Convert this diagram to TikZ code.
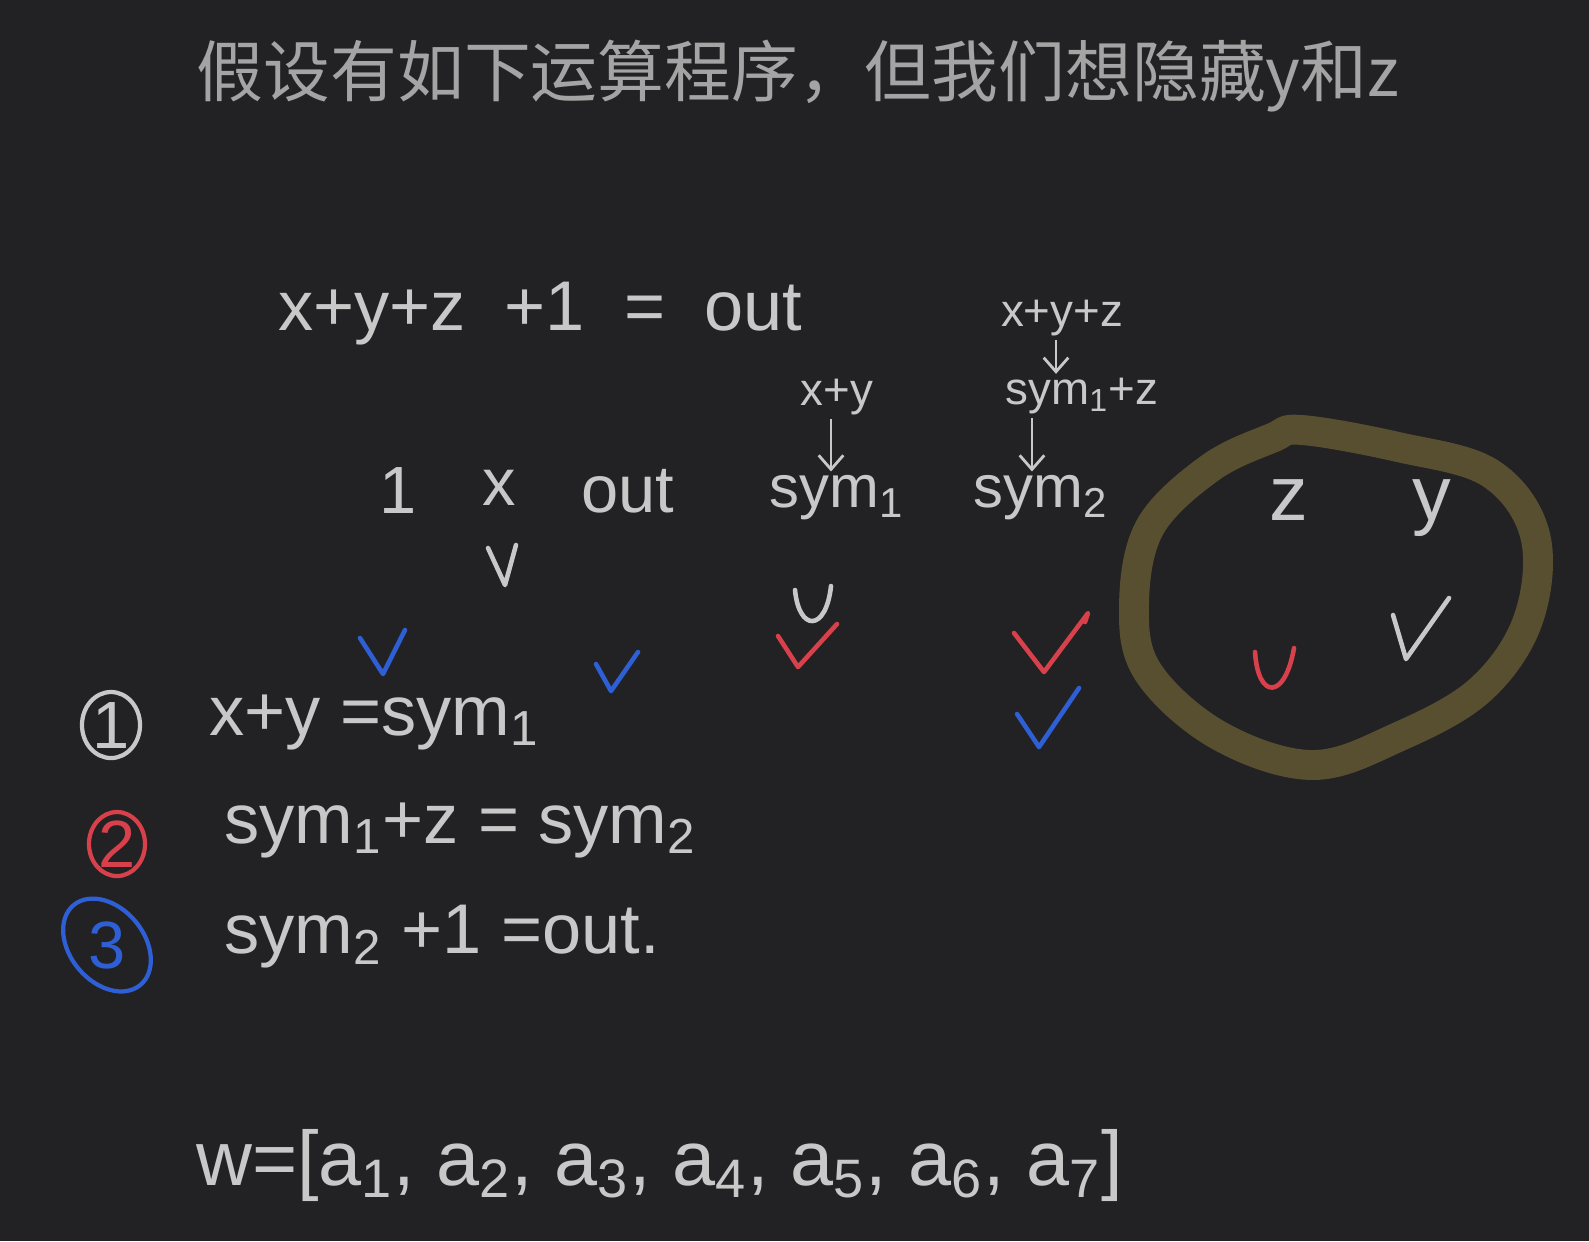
\documentclass[tikz,border=0pt]{standalone}
\usepackage{fontspec}
\setmainfont{Liberation Sans}
\newfontfamily\cjk{Noto Sans CJK SC}
\usetikzlibrary{arrows.meta}
\definecolor{bg}{HTML}{222224}
\definecolor{ink}{HTML}{C8C8C8}
\definecolor{titleink}{HTML}{A4A4A4}
\definecolor{penred}{HTML}{D8414B}
\definecolor{penblue}{HTML}{2F5FD4}
\definecolor{olive}{HTML}{584F31}
\tikzset{
  txt/.style={text=ink, inner sep=1pt},
  big/.style={txt, font=\fontsize{20}{22}\selectfont},
  row/.style={txt, font=\fontsize{19}{21}\selectfont},
  symrow/.style={txt, font=\fontsize{17}{19}\selectfont},
  small/.style={txt, font=\fontsize{13}{15}\selectfont},
  chkw/.style={draw=ink, line width=1.3pt, line join=round, line cap=round},
  chkr/.style={draw=penred, line width=1.3pt, line join=round, line cap=round},
  chkb/.style={draw=penblue, line width=1.3pt, line join=round, line cap=round},
  arr/.style={draw=ink, line width=0.8pt, -{Straight Barb[length=4pt,width=7pt]}},
}
\begin{document}
\begin{tikzpicture}[x=0.01cm,y=-0.01cm]
\fill[bg] (0,0) rectangle (1589,1241);
\useasboundingbox (0,0) rectangle (1589,1241);

% title
\node[txt, text=titleink, font=\cjk\fontsize{19}{21}\selectfont] (title) at (798,76) {假设有如下运算程序，但我们想隐藏y和z};

% main equation
\node[big, anchor=west] (eq) at (274,314) {x+y+z\ \ +1\ \ =\ \ out};

% small derivations
\node[small] (xyz) at (1062,318) {x+y+z};
\node[small] (s1z) at (1082,396) {sym\textsubscript{1}+z};
\node[small] (xy) at (837,397) {x+y};

% row of variables
\node[row] (v1) at (398,490) {1};
\node[row] (vx) at (499,488) {x};
\node[row] (vout) at (628,491) {out};
\node[symrow] (vs1) at (837,498) {sym\textsubscript{1}};
\node[symrow] (vs2) at (1041,498) {sym\textsubscript{2}};
\node[row, font=\fontsize{22}{24}\selectfont] (vz) at (1289,500) {z};
\node[row, font=\fontsize{22}{24}\selectfont] (vy) at (1432,508) {y};

% arrows
\draw[arr] ([xshift=-0.06cm]xyz.south) -- ([xshift=-0.06cm]xyz.south |- s1z.north);
\draw[arr] ([xshift=-0.5cm]s1z.south) -- ([xshift=-0.5cm]s1z.south |- vs2.north);
\draw[arr] ([xshift=-0.06cm]xy.south) -- ([xshift=-0.06cm]xy.south |- vs1.north);

% olive circle
\draw[olive, line width=8.5pt, line join=round]
  plot[smooth cycle, tension=0.6] coordinates {
  (1302,430) (1398,447) (1490,473) (1535,535) (1528,620) (1480,690)
  (1398,737) (1312,765) (1218,735) (1148,672) (1134,605) (1150,527)
  (1210,468) (1272,438)};

% check marks
\draw[chkw] (488,548) -- (505,585) -- (516,545);
\draw[chkw] (795,590) .. controls (799,632) and (826,632) .. (831,586);
\draw[chkr] (778,636) -- (798,667) -- (837,624);
\draw[chkr] (1014,633) -- (1044,672) -- (1088,613) -- (1085,622);
\draw[chkb] (1017,714) -- (1039,747) -- (1079,688);
\draw[chkb] (360,638) -- (383,674) -- (405,630);
\draw[chkb] (596,664) -- (611,691) -- (638,652);
\draw[chkr] (1255,652) .. controls (1258,700) and (1285,700) .. (1294,648);
\draw[chkw] (1393,615) -- (1406,659) -- (1449,598);

% numbered equations
\node[row, text=ink] (n1) at (111,725) {1};
\draw[ink, line width=1.2pt] (n1) ellipse [x radius=0.29cm, y radius=0.33cm];
\node[big, anchor=west] (e1) at (205,722) {x+y =sym\textsubscript{1}};

\node[row, text=penred] (n2) at (117,844) {2};
\draw[penred, line width=1.2pt] (n2) ellipse [x radius=0.28cm, y radius=0.32cm];
\node[big, anchor=west] (e2) at (220,830) {sym\textsubscript{1}+z = sym\textsubscript{2}};

\node[row, text=penblue] (n3) at (107,945) {3};
\draw[penblue, line width=1.2pt, rotate around={40:(n3)}] (n3) ellipse [x radius=0.37cm, y radius=0.52cm];
\node[big, anchor=west] (e3) at (220,937) {sym\textsubscript{2} +1 =out.};

% vector
\node[txt, font=\fontsize{22}{24}\selectfont, anchor=west] (w) at (192,1165)
  {w=[a\textsubscript{1}, a\textsubscript{2}, a\textsubscript{3}, a\textsubscript{4}, a\textsubscript{5}, a\textsubscript{6}, a\textsubscript{7}]};
\end{tikzpicture}
\end{document}
